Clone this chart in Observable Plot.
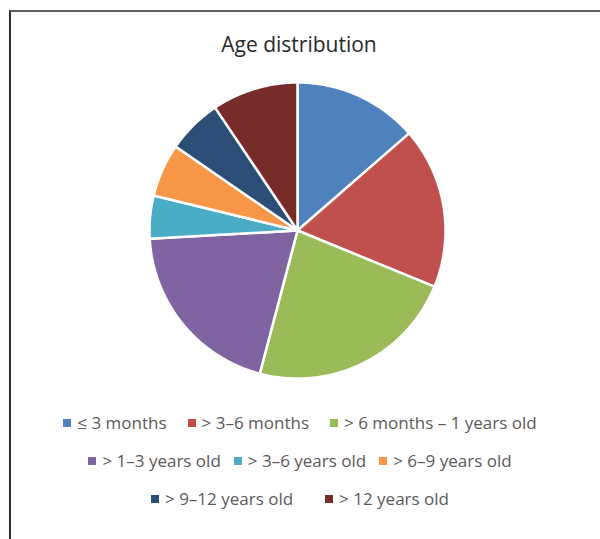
<!DOCTYPE html>
<html>
<head>
<meta charset="utf-8">
<script src="https://cdn.jsdelivr.net/npm/d3@7"></script>
<script src="https://cdn.jsdelivr.net/npm/@observablehq/plot@0.6"></script>
<style>
  html, body { margin: 0; padding: 0; background: #fff; }
  #page { position: relative; width: 600px; height: 539px; overflow: hidden; background: #fff; font-family: "Open Sans", Lato, sans-serif; }
  #frame { position: absolute; left: 9px; top: 10px; width: 620px; height: 620px; border-top: 2px solid #5c5c5c; border-left: 2px solid #2e2e2e; }
  #title { position: absolute; left: 0; width: 598px; top: 30px; text-align: center; font-size: 21px; color: #2a2a2a; }
  #chart { position: absolute; left: 0; top: 0; }
  .row { position: absolute; left: 0; width: 600px; display: flex; justify-content: center; font-size: 17px; color: #5a5a5a; line-height: 20px; }
  .item { display: flex; align-items: center; white-space: nowrap; }
  .sw { width: 8px; height: 8px; margin-right: 6px; }
</style>
</head>
<body>
<div id="page">
  <div id="frame"></div>
  <div id="chart"></div>
  <div id="title">Age distribution</div>
  <div id="legend"></div>
</div>
<script>
const labels = ["≤ 3 months", "> 3–6 months", "> 6 months – 1 years old", "> 1–3 years old", "> 3–6 years old", "> 6–9 years old", "> 9–12 years old", "> 12 years old"];
const values = [13.6, 17.6, 22.9, 20.0, 4.7, 5.8, 6.0, 9.4];
const colors = ["#4F81BD", "#C0504D", "#9BBB59", "#8064A2", "#4BACC6", "#F79646", "#2C4D75", "#772C2A"];
const legendRows = [[0, 1, 2], [3, 4, 5], [6, 7]];

const W = 600, H = 539;
const cx = 297, cy = 230, R = 148;

const arcs = d3.pie().sort(null).value(d => d.value)(labels.map((label, i) => ({label, value: values[i]})));
const pts = [];
arcs.forEach(a => {
  const lab = a.data.label;
  pts.push({label: lab, x: cx, y: cy});
  const n = Math.max(8, Math.ceil((a.endAngle - a.startAngle) / 0.01));
  for (let k = 0; k <= n; k++) {
    const t = a.startAngle + (a.endAngle - a.startAngle) * k / n;
    pts.push({label: lab, x: cx + R * Math.sin(t), y: cy - R * Math.cos(t)});
  }
  pts.push({label: lab, x: cx, y: cy});
});

const plot = Plot.plot({
  width: W, height: H,
  margin: 0,
  x: {domain: [0, W], range: [0, W], axis: null},
  y: {domain: [0, H], range: [0, H], axis: null},
  color: {domain: labels, range: colors},
  marks: [
    Plot.line(pts, {x: "x", y: "y", z: "label", fill: "label", stroke: "white", strokeWidth: 2.5, strokeLinejoin: "miter", curve: "linear"})
  ]
});
document.getElementById("chart").appendChild(plot);

const legend = document.getElementById("legend");
const rowTops = [413, 451, 489];
const rowGaps = [21, 13, 32];
legendRows.forEach((row, r) => {
  const div = document.createElement("div");
  div.className = "row";
  div.style.top = rowTops[r] + "px";
  div.style.gap = rowGaps[r] + "px";
  row.forEach(i => {
    const it = document.createElement("div");
    it.className = "item";
    const sw = document.createElement("span");
    sw.className = "sw";
    sw.style.background = colors[i];
    const tx = document.createElement("span");
    tx.textContent = labels[i];
    it.appendChild(sw); it.appendChild(tx);
    div.appendChild(it);
  });
  legend.appendChild(div);
});
</script>
</body>
</html>
